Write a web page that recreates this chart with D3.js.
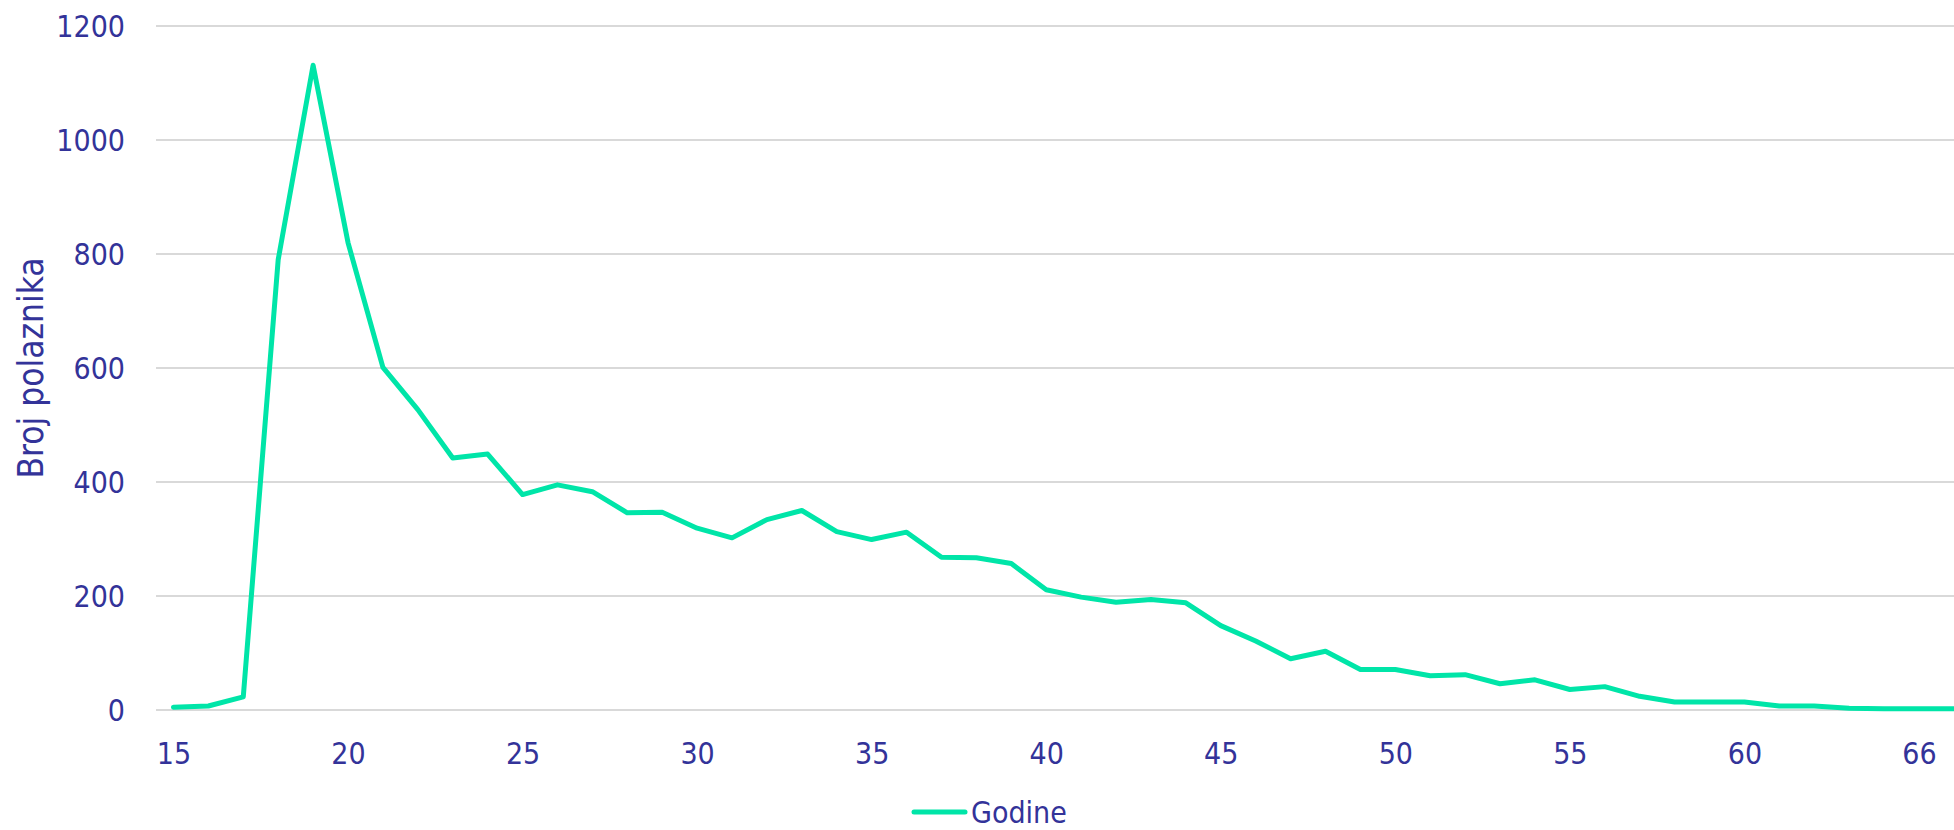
<!DOCTYPE html>
<html>
<head>
<meta charset="utf-8">
<script src="https://cdn.jsdelivr.net/npm/d3@7"></script>
<style>
    body { margin: 0; background: #fff; }
    text { font-family: "DejaVu Sans Condensed", "DejaVu Sans", sans-serif; font-stretch: condensed; fill: #333399; }
</style>
</head>
<body>
<script>
// ages (categories) and number of participants per age
const ages = [15, 16, 17, 18, 19, 20, 21, 22, 23, 24,
    25, 26, 27, 28, 29, 30, 31, 32, 33, 34,
    35, 36, 37, 38, 39, 40, 41, 42, 43, 44,
    45, 46, 47, 48, 49, 50, 51, 52, 53, 54,
    55, 56, 57, 58, 59, 60, 61, 62, 63, 64,
    66, 67];
const counts = [5, 7, 23, 790, 1131, 820, 601, 527, 442, 449,
    378, 395, 383, 346, 347, 319, 302, 334, 350, 313,
    299, 312, 268, 267, 257, 211, 198, 189, 194, 188,
    148, 121, 90, 103, 71, 71, 60, 62, 46, 53,
    36, 41, 24, 14, 14, 14, 7, 7, 3, 2,
    2, 2];
const yTicks = [0, 200, 400, 600, 800, 1000, 1200];
const seriesName = "Godine";
const yTitle = "Broj polaznika";

const W = 1954, H = 830;
const margin = { top: 26, left: 156, bottom: 120 };
const step = 34.91;
const plotH = H - margin.top - margin.bottom;

const svg = d3.select("body").append("svg")
    .attr("width", W)
    .attr("height", H);

const x = d3.scalePoint()
    .domain(ages)
    .range([margin.left + step / 2, margin.left + step / 2 + step * (ages.length - 1)]);

const y = d3.scaleLinear()
    .domain([0, 1200])
    .range([margin.top + plotH, margin.top]);

// gridlines
svg.append("g")
    .selectAll("line")
    .data(yTicks)
    .enter().append("line")
    .attr("x1", margin.left)
    .attr("x2", W)
    .attr("y1", d => y(d))
    .attr("y2", d => y(d))
    .style("stroke", "#d9d9d9")
    .style("stroke-width", 2);

// y axis labels
const yAxis = d3.axisLeft(y).tickValues(yTicks).tickFormat(d3.format("d")).tickSize(0).tickPadding(0);
const gy = svg.append("g")
    .attr("transform", "translate(125,0)")
    .call(yAxis);
gy.select(".domain").remove();
gy.selectAll("text")
    .attr("dy", "0.36em")
    .style("font-size", "30px")
    .style("font-family", null)
    .attr("fill", "#333399");

// x axis labels, every 5th category
const xAxis = d3.axisBottom(x)
    .tickValues(ages.filter((d, i) => i % 5 === 0))
    .tickSize(0).tickPadding(0);
const gx = svg.append("g")
    .attr("transform", `translate(0,${y(0)})`)
    .call(xAxis);
gx.select(".domain").remove();
gx.selectAll("text")
    .attr("y", 43)
    .attr("dy", "0.36em")
    .style("font-size", "30px")
    .style("font-family", null)
    .attr("fill", "#333399");

// y title
svg.append("text")
    .attr("transform", `translate(43,${(y(0) + y(1200)) / 2}) rotate(-90)`)
    .attr("text-anchor", "middle")
    .style("font-size", "35px")
    .text(yTitle);

// line
const line = d3.line()
    .x((d, i) => x(ages[i]))
    .y(d => y(d));

svg.append("path")
    .datum(counts)
    .attr("d", line)
    .style("fill", "none")
    .style("stroke", "#00e5a8")
    .style("stroke-width", 5)
    .style("stroke-linejoin", "round")
    .style("stroke-linecap", "round");

// legend
const legend = svg.append("g").attr("transform", "translate(0,812)");
legend.append("line")
    .attr("x1", 914).attr("x2", 965)
    .attr("y1", 0).attr("y2", 0)
    .style("stroke", "#00e5a8")
    .style("stroke-width", 5)
    .style("stroke-linecap", "round");
legend.append("text")
    .attr("x", 971)
    .attr("y", 0)
    .attr("dy", "0.36em")
    .style("font-size", "30px")
    .text(seriesName);
</script>
</body>
</html>
